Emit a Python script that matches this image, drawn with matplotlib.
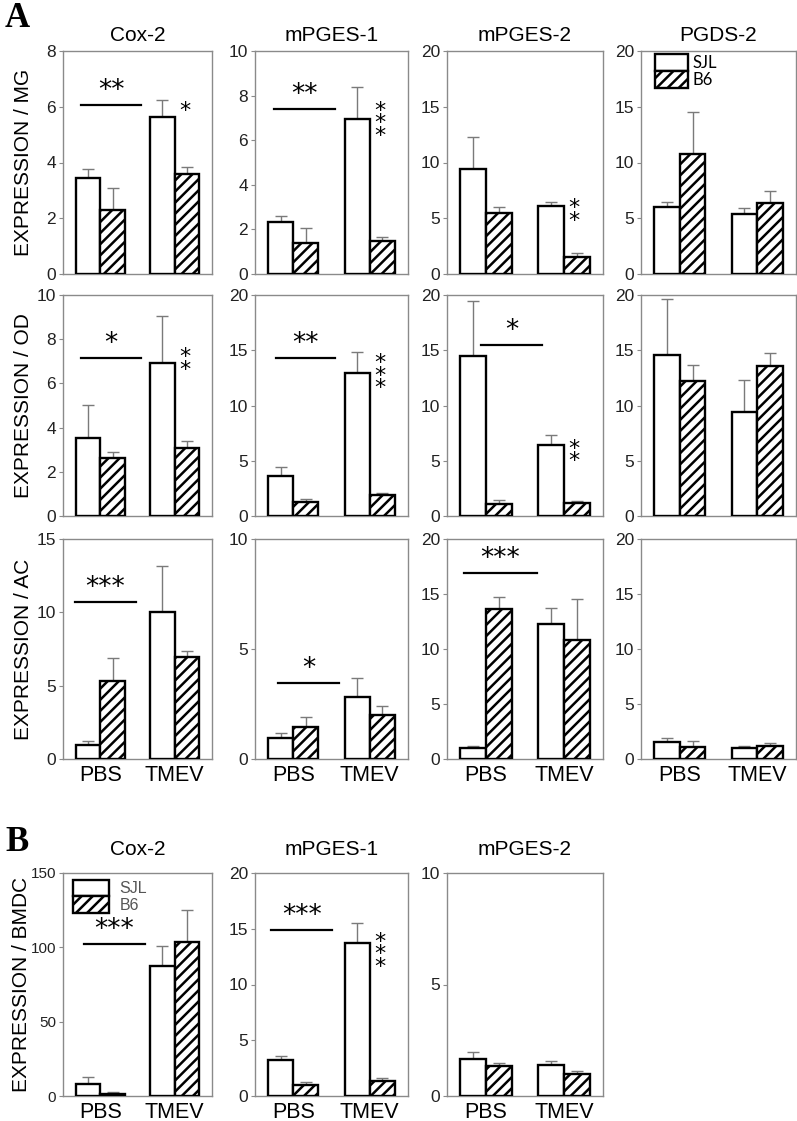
import numpy as np
import matplotlib.pyplot as plt

plt.rcParams['font.family'] = ['Liberation Sans', 'DejaVu Sans']
plt.rcParams['hatch.linewidth'] = 1.8

groups = ['PBS', 'TMEV']
strains = ['SJL', 'B6']
genes_a = ['Cox-2', 'mPGES-1', 'mPGES-2', 'PGDS-2']
genes_b = ['Cox-2', 'mPGES-1', 'mPGES-2']
cells = ['MG', 'OD', 'AC', 'BMDC']

# mean and upper error per gene, order [PBS, TMEV]
mg_sjl = [[3.45, 5.62], [2.33, 6.95], [9.38, 6.10], [5.99, 5.40]]
mg_sjl_err = [[0.30, 0.61], [0.26, 1.45], [2.92, 0.40], [0.51, 0.50]]
mg_b6 = [[2.28, 3.58], [1.40, 1.47], [5.46, 1.53], [10.77, 6.40]]
mg_b6_err = [[0.80, 0.25], [0.66, 0.21], [0.53, 0.39], [3.73, 1.00]]

od_sjl = [[3.54, 6.91], [3.60, 12.95], [14.52, 6.40], [14.58, 9.39]]
od_sjl_err = [[1.50, 2.15], [0.82, 1.85], [4.98, 0.95], [5.02, 2.91]]
od_b6 = [[2.61, 3.09], [1.24, 1.90], [1.08, 1.17], [12.25, 13.60]]
od_b6_err = [[0.30, 0.32], [0.30, 0.19], [0.40, 0.18], [1.45, 1.15]]

ac_sjl = [[0.94, 10.02], [0.95, 2.83], [0.96, 12.28], [1.54, 0.99]]
ac_sjl_err = [[0.32, 3.15], [0.25, 0.83], [0.18, 1.44], [0.33, 0.15]]
ac_b6 = [[5.29, 6.97], [1.45, 2.02], [13.60, 10.81], [1.11, 1.20]]
ac_b6_err = [[1.63, 0.41], [0.48, 0.39], [1.14, 3.72], [0.49, 0.22]]

bmdc_sjl = [[8.2, 87.5], [3.26, 13.74], [1.68, 1.40]]
bmdc_sjl_err = [[4.5, 13.2], [0.33, 1.80], [0.29, 0.15]]
bmdc_b6 = [[1.1, 103.6], [0.99, 1.38], [1.34, 0.98]]
bmdc_b6_err = [[1.4, 21.6], [0.24, 0.21], [0.16, 0.15]]

ymax = [[8, 10, 20, 20], [10, 20, 20, 20], [15, 10, 20, 20], [150, 20, 10]]
ystep = [[2, 2, 5, 5], [2, 5, 5, 5], [5, 5, 5, 5], [50, 5, 5]]

# significance bars: (row, col) -> (x0, x1, y, stars)
brackets = {
    (0, 0): (-0.26, 0.55, 6.05, '**'),
    (0, 1): (-0.25, 0.55, 7.4, '**'),
    (1, 0): (-0.26, 0.55, 7.16, '*'),
    (1, 1): (-0.23, 0.55, 14.3, '**'),
    (1, 2): (-0.06, 0.72, 15.45, '*'),
    (2, 0): (-0.34, 0.48, 10.7, '***'),
    (2, 1): (-0.20, 0.60, 3.46, '*'),
    (2, 2): (-0.28, 0.65, 16.9, '***'),
    (3, 0): (-0.22, 0.60, 102.3, '***'),
    (3, 1): (-0.29, 0.51, 14.9, '***'),
}
# stacked stars over TMEV B6: (row, col) -> (y centre, count)
side_stars = {
    (0, 0): (5.85, 1),
    (0, 1): (6.75, 3),
    (0, 2): (5.35, 2),
    (1, 0): (6.9, 2),
    (1, 1): (12.7, 3),
    (1, 2): (5.5, 2),
    (3, 1): (12.7, 3),
}

W, H = 797, 1121
fig = plt.figure(figsize=(W / 100, H / 100), dpi=100)

lefts = [63, 255, 447, 641]
widths = [149, 153, 156, 155]
tops = [51, 295, 539, 873]
bottoms = [274, 516, 759, 1096]

sjl_all = [mg_sjl, od_sjl, ac_sjl, bmdc_sjl]
sjl_err_all = [mg_sjl_err, od_sjl_err, ac_sjl_err, bmdc_sjl_err]
b6_all = [mg_b6, od_b6, ac_b6, bmdc_b6]
b6_err_all = [mg_b6_err, od_b6_err, ac_b6_err, bmdc_b6_err]

bw = 0.33
x = np.arange(len(groups))
for r in range(4):
    ncol = 4 if r < 3 else 3
    for c in range(ncol):
        ax = fig.add_axes([lefts[c] / W, 1 - bottoms[r] / H, widths[c] / W,
                           (bottoms[r] - tops[r]) / H])
        sjl, b6 = sjl_all[r][c], b6_all[r][c]
        ax.errorbar(x - bw / 2, sjl, yerr=[np.zeros(2), sjl_err_all[r][c]], fmt='none',
                    ecolor='#7a7a7a', elinewidth=1, capsize=4, capthick=1, zorder=1)
        ax.errorbar(x + bw / 2, b6, yerr=[np.zeros(2), b6_err_all[r][c]], fmt='none',
                    ecolor='#7a7a7a', elinewidth=1, capsize=4, capthick=1, zorder=1)
        ax.bar(x - bw / 2, sjl, bw, color='white', edgecolor='black', linewidth=1.7,
               zorder=3, label=strains[0])
        ax.bar(x + bw / 2, b6, bw, color='white', edgecolor='black', linewidth=1.7,
               hatch='///', zorder=3, label=strains[1])
        ax.set_xlim(-0.5, 1.5)
        ax.set_ylim(0, ymax[r][c])
        ax.set_yticks(np.arange(0, ymax[r][c] + 0.1, ystep[r][c]))
        for s in ax.spines.values():
            s.set_color('#8a8a8a')
            s.set_linewidth(1)
        tsize = 11 if (r, c) == (3, 0) else 12.5
        ax.tick_params(axis='y', direction='out', length=3, color='#8a8a8a',
                       labelsize=tsize, labelcolor='#222222', pad=2)
        ax.set_xticks(x)
        if r >= 2:
            ax.set_xticklabels(groups)
            ax.tick_params(axis='x', length=0, labelsize=15.5, pad=4)
        else:
            ax.tick_params(axis='x', length=0, labelbottom=False)
        if r == 0:
            ax.set_title(genes_a[c], fontsize=15, pad=7)
        if r == 3:
            ax.set_title(genes_b[c], fontsize=15, pad=13)
        if c == 0:
            ax.set_ylabel('EXPRESSION / ' + cells[r], fontsize=15)
            ax.yaxis.set_label_coords(-0.215 if r == 3 else -0.2, 0.5)

        if (r, c) in brackets:
            x0, x1, yb, lab = brackets[(r, c)]
            ax.plot([x0, x1], [yb, yb], color='black', lw=1.6, zorder=4)
            ax.text((x0 + x1) / 2, yb + ymax[r][c] * 0.005, lab,
                    ha='center', va='bottom', fontsize=19, family='DejaVu Sans')
        if (r, c) in side_stars:
            yc, n = side_stars[(r, c)]
            ax.text(1.13, yc, '\n'.join(['*'] * n), ha='center', va='center',
                    fontsize=16, linespacing=0.53, family='DejaVu Sans')

        if (r, c) == (0, 3):
            ax.legend(loc='upper left', bbox_to_anchor=(0.09, 0.985), frameon=False,
                      borderpad=0, borderaxespad=0, labelspacing=0, handlelength=2.0,
                      handleheight=1.15, handletextpad=0.25,
                      prop={'family': 'Lato', 'size': 12})
        if (r, c) == (3, 0):
            ax.legend(loc='upper left', bbox_to_anchor=(0.07, 0.97), frameon=False,
                      borderpad=0, borderaxespad=0, labelspacing=0, handlelength=2.2,
                      handleheight=1.2, handletextpad=0.7, labelcolor='#555555',
                      prop={'size': 11.5})

fig.text(5 / W, 1 - 2 / H, 'A', family='Liberation Serif', weight='bold', fontsize=25, va='top')
fig.text(5 / W, 1 - 826 / H, 'B', family='Liberation Serif', weight='bold', fontsize=25, va='top')

fig.savefig('out.png', dpi=100)
